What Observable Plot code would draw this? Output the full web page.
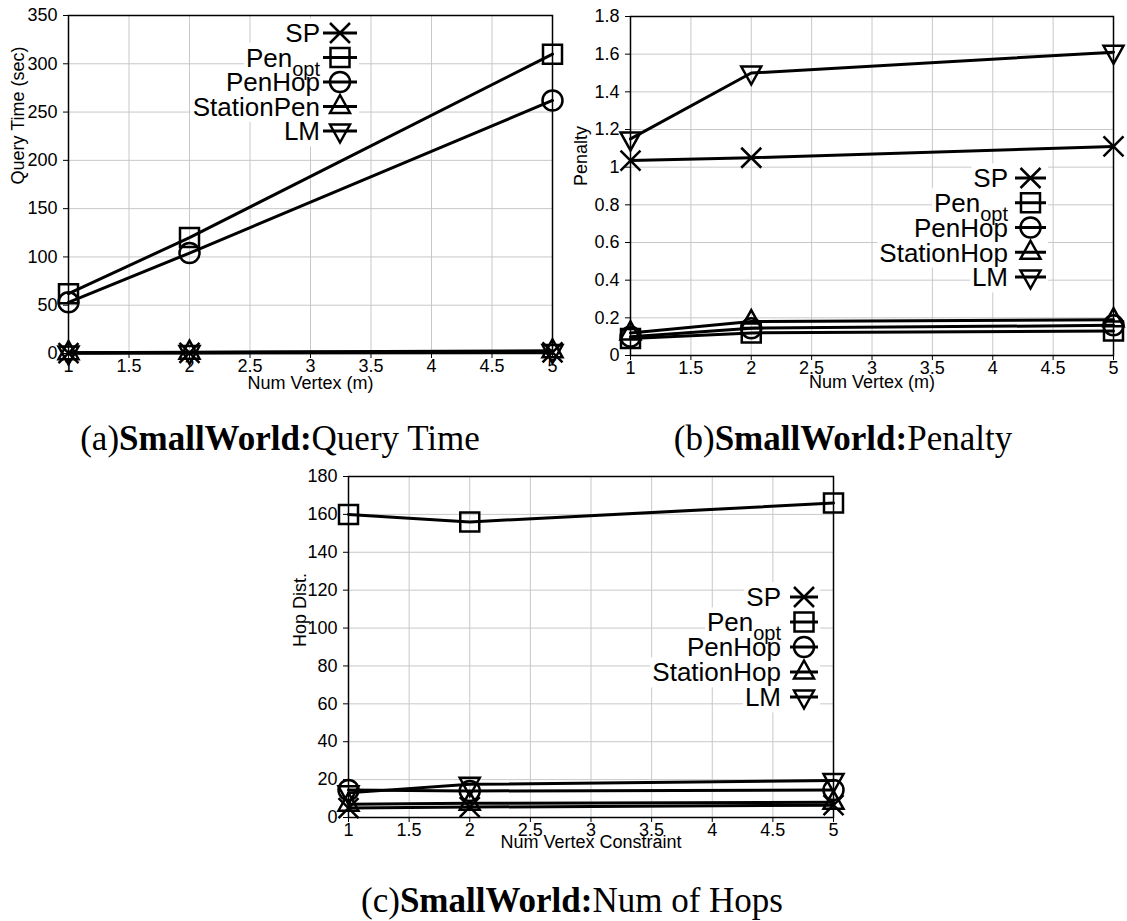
<!DOCTYPE html>
<html>
<head>
<meta charset="utf-8">
<script src="https://cdn.jsdelivr.net/npm/d3@7"></script>
<script src="https://cdn.jsdelivr.net/npm/@observablehq/plot@0.6"></script>
<style>
  body { margin: 0; background: #fff; }
  #page { position: relative; width: 1127px; height: 921px; overflow: hidden; background: #fff; }
  .panel { position: absolute; }
  .cap { position: absolute; font-family: "Liberation Serif", "DejaVu Serif", serif; font-size: 35px;
         line-height: 35px; white-space: nowrap; transform: translateX(-50%); color: #000; }
</style>
</head>
<body>
<div id="page"></div>
<script>
// x positions: number of vertices (m)
const numVertex = [1, 2, 5];
const xTicks = [1, 1.5, 2, 2.5, 3, 3.5, 4, 4.5, 5];

// (a) query time in seconds
const timeSP = [0.4, 0.6, 1.2];
const timePenOpt = [62, 120, 310];
const timePenHop = [53, 104, 262];
const timeStationPen = [0.9, 1.4, 2.8];
const timeLM = [0.6, 1.0, 2.0];
const timeTicks = [0, 50, 100, 150, 200, 250, 300, 350];

// (b) penalty
const penaltySP = [1.035, 1.05, 1.11];
const penaltyPenOpt = [0.09, 0.12, 0.13];
const penaltyPenHop = [0.10, 0.145, 0.16];
const penaltyStationHop = [0.12, 0.18, 0.19];
const penaltyLM = [1.15, 1.50, 1.61];
const penaltyTicks = [0, 0.2, 0.4, 0.6, 0.8, 1, 1.2, 1.4, 1.6, 1.8];

// (c) hop distance
const hopSP = [5, 5.5, 6.5];
const hopPenOpt = [160, 156, 166];
const hopPenHop = [14.5, 14, 14.5];
const hopStationHop = [7, 7.5, 8];
const hopLM = [13, 17.5, 19.5];
const hopTicks = [0, 20, 40, 60, 80, 100, 120, 140, 160, 180];

const namesA = ["SP", "Pen|opt", "PenHop", "StationPen", "LM"];
const namesBC = ["SP", "Pen|opt", "PenHop", "StationHop", "LM"];

// hollow gnuplot-style point types
const markR = 10;
const rad = s => Math.sqrt(s / Math.PI);
const symCross = { draw(c, s) { const r = rad(s); c.moveTo(-r, -r); c.lineTo(r, r); c.moveTo(-r, r); c.lineTo(r, -r); } };
const symSquare = { draw(c, s) { const r = rad(s) * 0.95; c.rect(-r, -r, 2 * r, 2 * r); } };
const symCircle = { draw(c, s) { const r = rad(s); c.moveTo(r, 0); c.arc(0, 0, r, 0, 2 * Math.PI); } };
const symUp = { draw(c, s) { const r = rad(s); c.moveTo(0, -1.15 * r); c.lineTo(r, 0.65 * r); c.lineTo(-r, 0.65 * r); c.closePath(); } };
const symDown = { draw(c, s) { const r = rad(s); c.moveTo(0, 1.15 * r); c.lineTo(r, -0.65 * r); c.lineTo(-r, -0.65 * r); c.closePath(); } };
const symbols = [symCross, symSquare, symCircle, symUp, symDown];

const sansFont = '"Liberation Sans", Arial, Helvetica, sans-serif';
const page = document.getElementById("page");

function addLegend(svg, names, spec) {
  const root = d3.select(svg).append("g").attr("font-family", sansFont).attr("font-size", 26);
  const bgLayer = root.append("g");
  const fgLayer = root.append("g");
  names.forEach((name, i) => {
    const y = spec.top + i * spec.step;
    const [base, sub] = name.split("|");
    const t = fgLayer.append("text").attr("x", spec.textRight).attr("y", y)
      .attr("dy", "0.36em").attr("text-anchor", "end").attr("fill", "black");
    t.append("tspan").text(base);
    if (sub) t.append("tspan").attr("font-size", 20).attr("dy", 9).text(sub);
    fgLayer.append("line").attr("x1", spec.sampleLeft).attr("x2", spec.sampleRight)
      .attr("y1", y).attr("y2", y).attr("stroke", "black").attr("stroke-width", 3);
    const p = d3.path();
    symbols[i].draw(p, markR * markR * Math.PI);
    fgLayer.append("path").attr("d", p.toString())
      .attr("transform", `translate(${(spec.sampleLeft + spec.sampleRight) / 2},${y})`)
      .attr("fill", "none").attr("stroke", "black").attr("stroke-width", 2.5);
    const bb = t.node().getBBox();
    bgLayer.append("rect").attr("x", bb.x - 2).attr("y", bb.y)
      .attr("width", spec.sampleRight + 4 - bb.x).attr("height", bb.height).attr("fill", "white");
  });
}

function buildPanel(cfg) {
  const marks = [
    Plot.gridX(xTicks, { stroke: "#c8c8c8", strokeOpacity: 1, strokeWidth: 1 }),
    Plot.gridY(cfg.yTicks, { stroke: "#c8c8c8", strokeOpacity: 1, strokeWidth: 1 }),
    Plot.axisX(xTicks, { tickSize: 5, tickPadding: 1, tickFormat: d => String(d), label: null, fontSize: 18 }),
    Plot.axisY(cfg.yTicks, { tickSize: 5, tickPadding: 6, tickFormat: d => String(d), label: null, fontSize: 18 }),
    Plot.frame({ stroke: "black", strokeWidth: 1.5 }),
    Plot.text([cfg.xLabel], { frameAnchor: "bottom", dy: cfg.xLabelDy, text: d => d, fontSize: 18 }),
    Plot.text([cfg.yLabel], { frameAnchor: "left", dx: cfg.yLabelDx, rotate: -90, text: d => d, fontSize: 18 })
  ];
  cfg.series.forEach((vals, i) => {
    const rows = vals.map((v, j) => ({ x: numVertex[j], y: v }));
    marks.push(Plot.line(rows, { x: "x", y: "y", stroke: "black", strokeWidth: 3 }));
    marks.push(Plot.dot(rows, { x: "x", y: "y", symbol: symbols[i], r: markR, fill: "none", stroke: "black", strokeWidth: 2.5 }));
  });
  const svg = Plot.plot({
    width: cfg.width, height: cfg.height,
    marginLeft: cfg.margin[0], marginTop: cfg.margin[1], marginRight: cfg.margin[2], marginBottom: cfg.margin[3],
    style: { background: "transparent", fontFamily: sansFont, fontSize: "18px", color: "black", overflow: "visible" },
    x: { domain: [1, 5] },
    y: { domain: cfg.yDomain },
    marks
  });
  const holder = document.createElement("div");
  holder.className = "panel";
  holder.style.left = cfg.left + "px";
  holder.style.top = cfg.top + "px";
  holder.appendChild(svg);
  page.appendChild(holder);
  addLegend(svg, cfg.names, cfg.legend);
}

buildPanel({
  left: 0, top: 0, width: 580, height: 420, margin: [68, 15, 28, 67],
  yDomain: [0, 350], yTicks: timeTicks,
  series: [timeSP, timePenOpt, timePenHop, timeStationPen, timeLM], names: namesA,
  xLabel: "Num Vertex (m)", xLabelDy: 35, yLabel: "Query Time (sec)", yLabelDx: -50,
  legend: { textRight: 320, sampleLeft: 323, sampleRight: 357, top: 33, step: 24.5 }
});

buildPanel({
  left: 560, top: 0, width: 567, height: 420, margin: [70, 16, 14, 65],
  yDomain: [0, 1.8], yTicks: penaltyTicks,
  series: [penaltySP, penaltyPenOpt, penaltyPenHop, penaltyStationHop, penaltyLM], names: namesBC,
  xLabel: "Num Vertex (m)", xLabelDy: 32, yLabel: "Penalty", yLabelDx: -49,
  legend: { textRight: 448, sampleLeft: 455, sampleRight: 486, top: 178, step: 24.75 }
});

buildPanel({
  left: 270, top: 440, width: 600, height: 440, margin: [78, 36, 37, 63],
  yDomain: [0, 180], yTicks: hopTicks,
  series: [hopSP, hopPenOpt, hopPenHop, hopStationHop, hopLM], names: namesBC,
  xLabel: "Num Vertex Constraint", xLabelDy: 30, yLabel: "Hop Dist.", yLabelDx: -48,
  legend: { textRight: 511, sampleLeft: 520, sampleRight: 548, top: 157, step: 25 }
});

// sub-figure captions
const captions = [
  { x: 280, y: 421, tag: "(a)", bold: "SmallWorld:", rest: "Query Time" },
  { x: 843, y: 421, tag: "(b)", bold: "SmallWorld:", rest: "Penalty" },
  { x: 572, y: 883, tag: "(c)", bold: "SmallWorld:", rest: "Num of Hops" }
];
captions.forEach(c => {
  const d = document.createElement("div");
  d.className = "cap";
  d.style.left = c.x + "px";
  d.style.top = c.y + "px";
  d.append(c.tag);
  const b = document.createElement("b");
  b.textContent = c.bold;
  d.append(b, c.rest);
  page.appendChild(d);
});
</script>
</body>
</html>
